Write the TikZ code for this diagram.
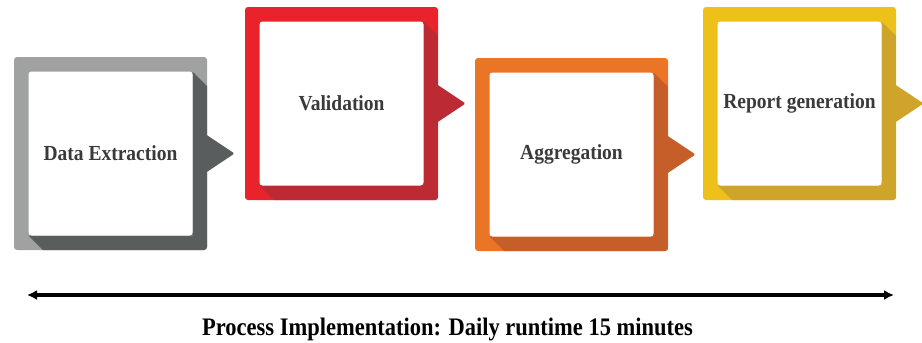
\documentclass[tikz,border=0pt]{standalone}
\usepackage{fontspec}
\setmainfont{Liberation Serif}
\usetikzlibrary{arrows.meta}
\definecolor{grayL}{HTML}{A0A1A1}
\definecolor{grayD}{HTML}{5A5D5E}
\definecolor{redL}{HTML}{E8232C}
\definecolor{redD}{HTML}{BC2A33}
\definecolor{orangeL}{HTML}{EB7526}
\definecolor{orangeD}{HTML}{C55E28}
\definecolor{yellowL}{HTML}{EEC11A}
\definecolor{yellowD}{HTML}{CFA42B}
\definecolor{txtgray}{HTML}{3A3A3A}
\tikzset{
  outerbox/.style={rounded corners=3pt, minimum width=193pt, minimum height=193pt,
    inner sep=0pt, outer sep=0pt},
  innerbox/.style={fill=white, rounded corners=3pt, minimum width=164pt,
    minimum height=164pt, inner sep=0pt, text=txtgray,
    font=\bfseries\fontsize{19.5}{22}\selectfont},
  timeline/.style={line width=3.2pt, {Latex[length=10pt,width=10pt]}-{Latex[length=10pt,width=10pt]}},
  caption/.style={font=\bfseries\fontsize{22.5}{26}\selectfont, text=black}
}
\newcommand\procbox[6]{%
  \node[outerbox, fill=#4, anchor=north west] (#1) at (#2,#3) {};
  \begin{scope}
    \clip[rounded corners=3pt] (#1.north west) rectangle (#1.south east);
    \fill[#5, shift={(#1.center)}] (82,-82) -- (97,-67) -- (97,97) -- (-67,97)
      -- (-82,82) -- (82,82) -- cycle;
  \end{scope}
  \fill[#5, shift={(#1.center)}, rounded corners=1.5pt] (94,-20) -- (124,0) -- (94,20) -- cycle;
  \node[innerbox] (#1-in) at (#1.center) {\scalebox{1}[1.1]{#6}};
}
\begin{document}
\begin{tikzpicture}[x=1pt,y=-1pt]
  \useasboundingbox (0,0) rectangle (922,343);
  \procbox{b1}{14}{57}{grayL}{grayD}{Data Extraction}
  \procbox{b2}{245}{7}{redL}{redD}{Validation}
  \procbox{b3}{475}{58}{orangeL}{orangeD}{Aggregation}
  \procbox{b4}{703}{7}{yellowL}{yellowD}{Report generation}
  \coordinate (aL) at (27,295);
  \coordinate (aR) at (894,295);
  \draw[timeline] (aL) -- (aR);
  \node[caption, anchor=base] (cap) at (447.5,335) {\scalebox{1}[1.12]{Process Implementation: Daily runtime 15 minutes}};
\end{tikzpicture}
\end{document}
